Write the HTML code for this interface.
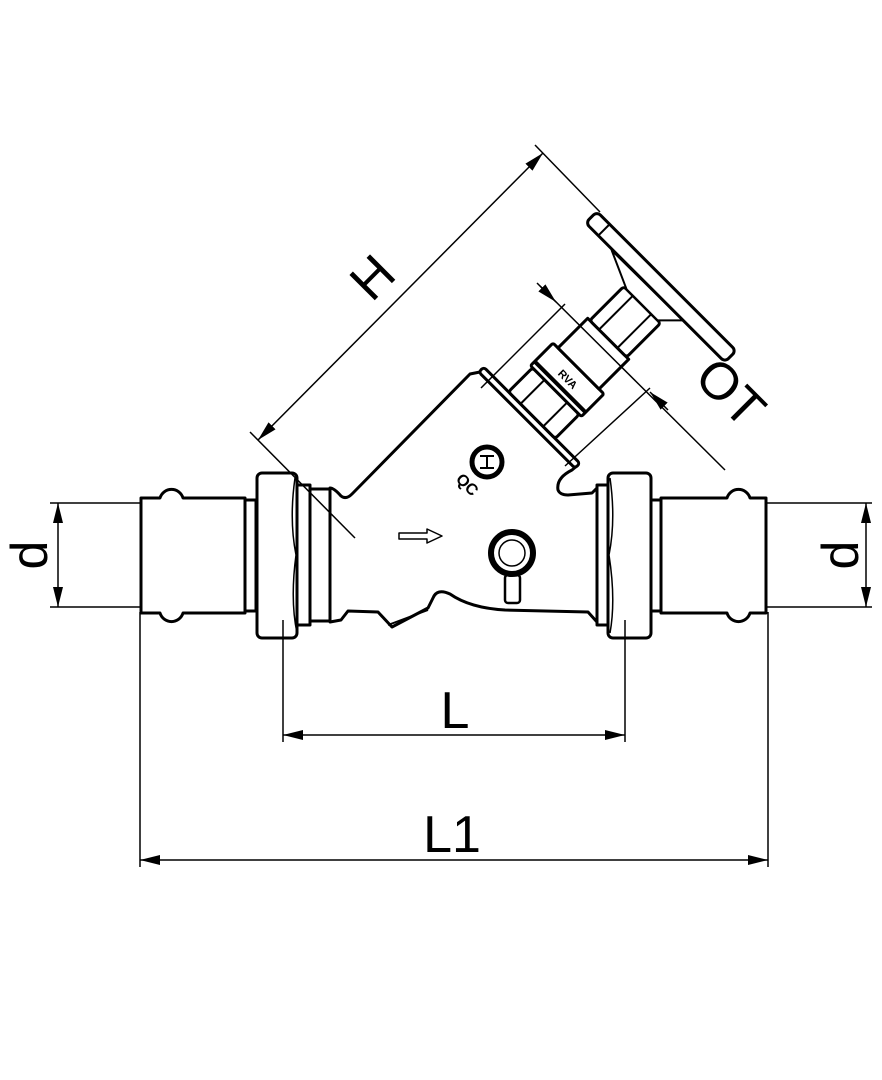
<!DOCTYPE html>
<html><head><meta charset="utf-8"><style>html,body{margin:0;padding:0;background:#fff}svg{display:block}</style></head><body>
<svg width="882" height="1080" viewBox="0 0 882 1080" xmlns="http://www.w3.org/2000/svg" font-family="Liberation Sans, sans-serif">
<defs>
<marker id="a" viewBox="0 0 20 10" refX="20" refY="5" markerWidth="20" markerHeight="10" orient="auto-start-reverse" markerUnits="userSpaceOnUse"><path d="M0,0 L20,5 L0,10 z" fill="#000"/></marker>
</defs>
<g fill="none" stroke="#000" stroke-width="3" stroke-linejoin="round">
<line x1="50" y1="503" x2="140" y2="503" stroke-width="1.5"/>
<line x1="50" y1="607" x2="140" y2="607" stroke-width="1.5"/>
<path d="M141,498 H160 A12,12 0 0 1 183,498 H245 V613 H183 A12,12 0 0 1 160,613 H141 Z" fill="#fff"/>
<rect x="245" y="500" width="11" height="111" fill="#fff"/>
<rect x="257" y="473" width="40" height="165" rx="5" fill="#fff"/>
<path d="M295,478 Q289,520 296,555 Q290,600 297,633" stroke-width="1.5"/>
<rect x="297" y="485" width="13" height="140" fill="#fff"/>
<rect x="310" y="489" width="20" height="132" fill="#fff"/>
<path d="M330,488 Q334,488 341,496 Q346,500 352,494 L470,374 L480,372 L578,465 L572,470 Q556,478 558,490 Q560,495 568,495 L592,493 L597,488 V622 L588,612 L505,610 Q470,608 450,594 Q437,588 433,598 L428,608 L392,627 L378,612 L348,611 L341,620 L330,622 Z" fill="#fff"/>
<rect x="597" y="485" width="11" height="140" fill="#fff"/>
<rect x="608" y="473" width="43" height="165" rx="5" fill="#fff"/>
<path d="M610,478 Q616,520 609,555 Q616,600 610,633" stroke-width="1.5"/>
<rect x="651" y="500" width="10" height="111" fill="#fff"/>
<path d="M661,498 H727 A12,12 0 0 1 750,498 H766 V613 H750 A12,12 0 0 1 727,613 H661 Z" fill="#fff"/>
<line x1="766" y1="503" x2="872" y2="503" stroke-width="1.5"/>
<line x1="766" y1="607" x2="872" y2="607" stroke-width="1.5"/>
<path d="M388,625 L428,610" stroke-width="2"/>
<circle cx="512" cy="553" r="21" stroke-width="6"/>
<circle cx="512" cy="553" r="13" stroke-width="1.5"/>
<rect x="505" y="575" width="15" height="28" rx="3" stroke-width="2.5"/>
<path d="M399,533 H427 V529 L442,536 L427,543 V539 H399 Z" stroke-width="1.5"/>
<circle cx="487" cy="462" r="15" stroke-width="5"/>
<path d="M480,456 H494 M487,456 V468 M480,468 H494" stroke-width="2"/>
<text x="0" y="0" transform="translate(455,480) rotate(45)" font-size="16" font-weight="bold" fill="#000" stroke="none">QC</text>
<g transform="translate(529,418) rotate(-45)" fill="#fff">
<rect x="-3" y="-68" width="7" height="136" rx="3"/>
<rect x="4" y="-33" width="34" height="66" rx="3"/>
<line x1="4" y1="-16" x2="38" y2="-16" stroke-width="2"/>
<line x1="4" y1="16" x2="38" y2="16" stroke-width="2"/>
<rect x="38" y="-36" width="32" height="72" rx="2"/>
<line x1="44" y1="-36" x2="44" y2="36" stroke-width="4"/>
<rect x="70" y="-29" width="42" height="58"/>
<rect x="112" y="-26" width="48" height="52" rx="3"/>
<line x1="112" y1="-13" x2="160" y2="-13" stroke-width="2"/>
<line x1="112" y1="13" x2="160" y2="13" stroke-width="2"/>
<path d="M160,-22 L177,-60 L178,40 L160,22 Z" stroke-width="2"/>
<rect x="178" y="-98" width="16" height="197" rx="5"/>
<line x1="178" y1="-80" x2="194" y2="-80" stroke-width="2"/>
<text x="56" y="5" font-size="11" font-weight="bold" fill="#000" stroke="none" transform="rotate(90 56 0)" text-anchor="middle">RVA</text>
</g>
</g>
<g fill="none" stroke="#000" stroke-width="1.5">
<line x1="58" y1="503" x2="58" y2="607" marker-start="url(#a)" marker-end="url(#a)"/>
<line x1="866" y1="503" x2="866" y2="607" marker-start="url(#a)" marker-end="url(#a)"/>
<line x1="283" y1="620" x2="283" y2="742"/>
<line x1="625" y1="620" x2="625" y2="742"/>
<line x1="283" y1="735" x2="625" y2="735" marker-start="url(#a)" marker-end="url(#a)"/>
<line x1="140" y1="612" x2="140" y2="867"/>
<line x1="768" y1="612" x2="768" y2="867"/>
<line x1="140" y1="860" x2="768" y2="860" marker-start="url(#a)" marker-end="url(#a)"/>
<line x1="258" y1="440" x2="543" y2="153" marker-start="url(#a)" marker-end="url(#a)"/>
<line x1="250" y1="432" x2="355" y2="538"/>
<line x1="535" y1="145" x2="600" y2="212"/>
<line x1="537" y1="283" x2="725" y2="470"/>
<line x1="540" y1="286" x2="556" y2="302" marker-end="url(#a)"/>
<line x1="668" y1="410" x2="650" y2="392" marker-end="url(#a)"/>
<line x1="481" y1="388" x2="565" y2="304"/>
<line x1="565" y1="466" x2="650" y2="388"/>
</g>
<g fill="#000" font-size="52">
<text transform="translate(47,555) rotate(-90)" text-anchor="middle">d</text>
<text transform="translate(858,555) rotate(-90)" text-anchor="middle">d</text>
<text x="455" y="728" text-anchor="middle">L</text>
<text x="452" y="852" text-anchor="middle">L1</text>
<text transform="translate(385,290) rotate(-45)" text-anchor="middle">H</text>
<text transform="translate(718,405) rotate(45)" text-anchor="middle">OT</text>
</g>
</svg>
</body></html>
